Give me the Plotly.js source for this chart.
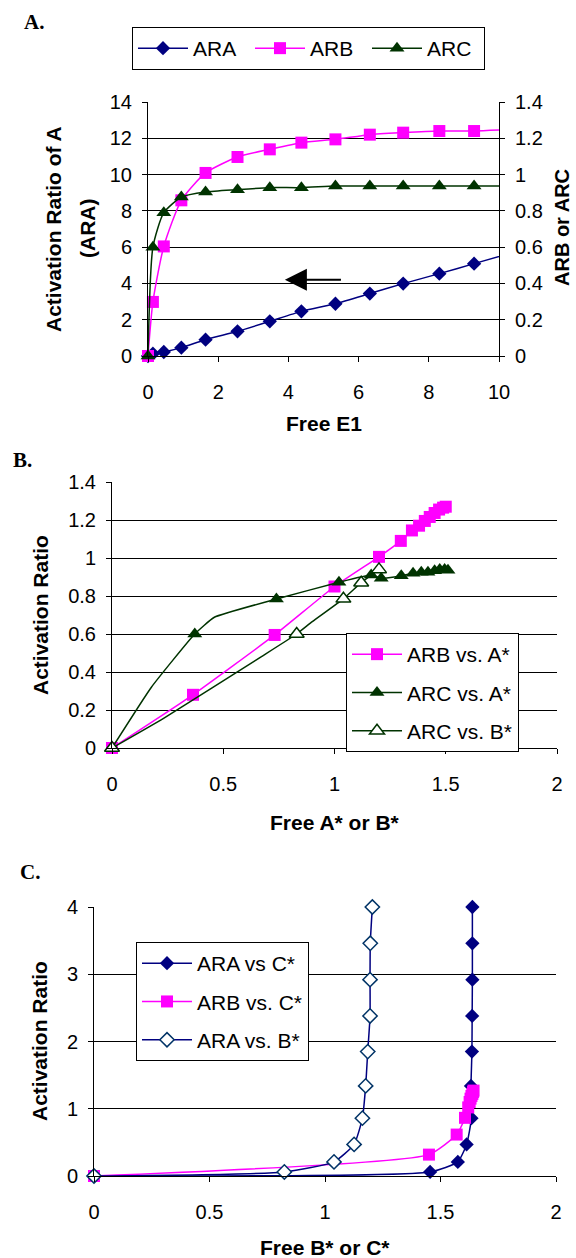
<!DOCTYPE html>
<html><head><meta charset="utf-8">
<script src="https://cdn.plot.ly/plotly-3.0.1.min.js"></script>
<style>html,body{margin:0;padding:0;background:#fff;} #chart{width:576px;height:1258px;}</style>
</head><body><div id="chart"></div>
<script>
// ---------- Panel A data ----------
const freeE1 = [0, 0.14, 0.45, 0.95, 1.64, 2.55, 3.47, 4.37, 5.34, 6.32, 7.27, 8.30, 9.29, 10.22];
const araA   = [0, 0.13, 0.22, 0.46, 0.90, 1.36, 1.91, 2.46, 2.88, 3.44, 3.99, 4.54, 5.09, 5.60];
const arbA   = [0, 0.298, 0.604, 0.858, 1.009, 1.097, 1.139, 1.176, 1.194, 1.220, 1.231, 1.240, 1.240, 1.247];
const arcA   = [0, 0.60, 0.79, 0.876, 0.904, 0.917, 0.928, 0.928, 0.937, 0.937, 0.937, 0.937, 0.937, 0.937];
const arrowTail = [5.54, 4.2];
const arrowHead = [3.9, 4.2];

// ---------- Panel B data ----------
const freeA_arb = [0, 0.364, 0.731, 1.0, 1.20, 1.298, 1.348, 1.38, 1.406, 1.428, 1.45, 1.47, 1.488, 1.50];
const arbVsA    = [0, 0.28, 0.595, 0.85, 1.006, 1.09, 1.145, 1.17, 1.195, 1.216, 1.237, 1.255, 1.265, 1.27];
const freeA_arc = [0, 0.177, 0.372, 0.46, 0.739, 1.02, 1.165, 1.21, 1.30, 1.353, 1.39, 1.42, 1.45, 1.473, 1.495, 1.51];
const arcVsA    = [0, 0.32, 0.60, 0.688, 0.784, 0.872, 0.91, 0.893, 0.907, 0.92, 0.925, 0.925, 0.933, 0.94, 0.94, 0.936];
const arcVsA_hasMarker = [1, 0, 1, 0, 1, 1, 1, 1, 1, 1, 1, 1, 1, 1, 1, 1];
const freeB_arc = [0, 0.23, 0.67, 0.83, 0.90, 1.04, 1.12, 1.20];
const arcVsB    = [0, 0.155, 0.48, 0.60, 0.665, 0.785, 0.87, 0.94];
const arcVsB_hasMarker = [1, 0, 0, 1, 0, 1, 1, 1];

// ---------- Panel C data ----------
const araC       = [0, 0.06, 0.21, 0.47, 0.86, 1.34, 1.85, 2.38, 2.92, 3.46, 4.0];
const freeC_ara  = [0, 1.455, 1.575, 1.613, 1.634, 1.632, 1.636, 1.637, 1.638, 1.638, 1.638];
const freeB_ara  = [0, 0.824, 1.039, 1.126, 1.162, 1.176, 1.185, 1.195, 1.195, 1.196, 1.205];
const freeC_arb  = [0, 1.45, 1.57, 1.606, 1.62, 1.626, 1.63, 1.634, 1.638, 1.641, 1.643];
const arbVsC     = [0, 0.318, 0.616, 0.865, 1.02, 1.10, 1.15, 1.19, 1.22, 1.25, 1.27];

// ---------- styling ----------
const W = 576, H = 1258;
const px = v => v / W, py = v => 1 - v / H;
const SANS = 'Liberation Sans, Arial, sans-serif';
const SERIF = 'Liberation Serif, Times New Roman, serif';
const NAVY = '#000080', MAG = '#FF00FF', GREEN = '#003300', OPENBLUE = '#003366', NONE = 'rgba(0,0,0,0)';
const TICKF = {family: SANS, size: 20, color: '#000'};
const TITLEF = {family: SANS, size: 21, color: '#000', weight: 700};
// marker colour per point: transparent where the reference shows no marker
const inRangeColor = (col) => freeE1.map(v => v <= 10 ? col : NONE);
const flagColor = (flags, col) => flags.map(m => m ? col : NONE);

const traces = [
  {x: freeE1, y: araA, xaxis: 'x', yaxis: 'y', name: 'ARA', legend: 'legend', mode: 'lines+markers',
   line: {color: NAVY, width: 1.5, shape: 'spline', smoothing: 0.6},
   marker: {symbol: 'diamond', color: inRangeColor(NAVY), size: 11}, cliponaxis: false},
  {x: freeE1, y: arbA, xaxis: 'x', yaxis: 'y2', name: 'ARB', legend: 'legend', mode: 'lines+markers',
   line: {color: MAG, width: 1.5, shape: 'spline', smoothing: 0.6},
   marker: {symbol: 'square', color: inRangeColor(MAG), size: 12}, cliponaxis: false},
  {x: freeE1, y: arcA, xaxis: 'x', yaxis: 'y2', name: 'ARC', legend: 'legend', mode: 'lines+markers',
   line: {color: GREEN, width: 1.5, shape: 'spline', smoothing: 0.6},
   marker: {symbol: 'triangle-up', color: inRangeColor(GREEN), size: 13}, cliponaxis: false},

  {x: freeA_arb, y: arbVsA, xaxis: 'x2', yaxis: 'y3', name: 'ARB vs. A*', legend: 'legend2', legendgroup: 'b1', mode: 'lines+markers',
   line: {color: MAG, width: 1.5, shape: 'spline', smoothing: 0.4},
   marker: {symbol: 'square', color: MAG, size: 12}, cliponaxis: false},
  {x: freeA_arc, y: arcVsA, xaxis: 'x2', yaxis: 'y3', name: 'ARC vs. A*', legend: 'legend2', legendgroup: 'b2', mode: 'lines+markers',
   line: {color: GREEN, width: 1.5, shape: 'spline', smoothing: 0.4},
   marker: {symbol: 'triangle-up', color: flagColor(arcVsA_hasMarker, GREEN), size: 13}, cliponaxis: false},
  {x: freeB_arc, y: arcVsB, xaxis: 'x2', yaxis: 'y3', name: 'ARC vs. B*', legend: 'legend2', legendgroup: 'b3', mode: 'lines+markers',
   line: {color: GREEN, width: 1.5, shape: 'spline', smoothing: 0.4},
   marker: {symbol: 'triangle-up', color: flagColor(arcVsB_hasMarker, '#fff'),
            line: {color: flagColor(arcVsB_hasMarker, GREEN), width: 1.5}, size: 13}, cliponaxis: false},

  {x: freeC_ara, y: araC, xaxis: 'x3', yaxis: 'y4', name: 'ARA vs C*', legend: 'legend3', legendgroup: 'c1', mode: 'lines+markers',
   line: {color: NAVY, width: 1.5, shape: 'spline', smoothing: 0.5},
   marker: {symbol: 'diamond', color: NAVY, size: 11}, cliponaxis: false},
  {x: freeC_arb, y: arbVsC, xaxis: 'x3', yaxis: 'y4', name: 'ARB vs. C*', legend: 'legend3', legendgroup: 'c2', mode: 'lines+markers',
   line: {color: MAG, width: 1.5, shape: 'spline', smoothing: 0.5},
   marker: {symbol: 'square', color: MAG, size: 12}, cliponaxis: false},
  {x: freeB_ara, y: araC, xaxis: 'x3', yaxis: 'y4', name: 'ARA vs. B*', legend: 'legend3', legendgroup: 'c3', mode: 'lines+markers',
   line: {color: NAVY, width: 1.5, shape: 'spline', smoothing: 0.5},
   marker: {symbol: 'diamond', color: '#fff', line: {color: OPENBLUE, width: 1.5}, size: 11}, cliponaxis: false}
];

const baseAxis = {showline: true, linecolor: '#000', linewidth: 1, ticks: 'outside', ticklen: 5, tickcolor: '#000',
  tickwidth: 1, zeroline: false, tickfont: TICKF, fixedrange: true};
const xAx = (dom, range, dtick, anchor) => Object.assign({}, baseAxis, {domain: dom, range: range, dtick: dtick, tick0: 0,
  anchor: anchor, showgrid: false, ticklabelstandoff: 13});
const yAx = (dom, range, dtick, anchor) => Object.assign({}, baseAxis, {domain: dom, range: range, dtick: dtick, tick0: 0,
  anchor: anchor, showgrid: true, gridcolor: '#000', gridwidth: 1, ticklabelstandoff: 6});

const legendBase = {bgcolor: '#fff', bordercolor: '#000', borderwidth: 1, font: {family: SANS, size: 21, color: '#000'},
  xanchor: 'left', yanchor: 'top', itemwidth: 50};

const ann = (x, y, text, extra) => Object.assign({xref: 'paper', yref: 'paper', x: px(x), y: py(y), text: text,
  showarrow: false, xanchor: 'center', yanchor: 'middle', font: TITLEF}, extra || {});

const layout = {
  width: W, height: H, margin: {l: 0, r: 0, t: 0, b: 0}, autosize: false,
  paper_bgcolor: '#fff', plot_bgcolor: '#fff',
  xaxis: xAx([px(148), px(499)], [0, 10], 2, 'y'),
  yaxis: yAx([py(356), py(102)], [0, 14], 2, 'x'),
  yaxis2: Object.assign({}, baseAxis, {overlaying: 'y', side: 'right', anchor: 'x', range: [0, 1.4], dtick: 0.2, tick0: 0,
    showgrid: false, ticklabelstandoff: 6}),
  xaxis2: xAx([px(112), px(557)], [0, 2], 0.5, 'y3'),
  yaxis3: yAx([py(748), py(482)], [0, 1.4], 0.2, 'x2'),
  xaxis3: xAx([px(94), px(556)], [0, 2], 0.5, 'y4'),
  yaxis4: yAx([py(1176), py(907)], [0, 4], 1, 'x3'),
  legend: Object.assign({}, legendBase, {x: px(132), y: py(27), orientation: 'h', entrywidth: 52, entrywidthmode: 'pixels'}),
  legend2: Object.assign({}, legendBase, {x: px(346), y: py(633), tracegroupgap: 8, traceorder: 'grouped'}),
  legend3: Object.assign({}, legendBase, {x: px(136), y: py(942), tracegroupgap: 8, traceorder: 'grouped'}),
  annotations: [
    ann(22, 22, 'A.', {xanchor: 'left', font: {family: SERIF, size: 21, color: '#000', weight: 700}}),
    ann(11, 460, 'B.', {xanchor: 'left', font: {family: SERIF, size: 21, color: '#000', weight: 700}}),
    ann(18, 872, 'C.', {xanchor: 'left', font: {family: SERIF, size: 21, color: '#000', weight: 700}}),
    ann(323.5, 423, 'Free E1'),
    ann(53, 229, 'Activation Ratio of A', {textangle: -90}),
    ann(87, 229, '(ARA)', {textangle: -90}),
    ann(562, 228, 'ARB or ARC', {textangle: -90, font: {family: SANS, size: 20, color: '#000', weight: 700}}),
    ann(334.5, 822, 'Free A* or B*'),
    ann(40, 615, 'Activation Ratio', {textangle: -90}),
    ann(325, 1247, 'Free B* or C*'),
    ann(39, 1041, 'Activation Ratio', {textangle: -90}),
    {xref: 'x', yref: 'y', axref: 'x', ayref: 'y', x: arrowHead[0], y: arrowHead[1], ax: arrowTail[0], ay: arrowTail[1],
     text: '', showarrow: true, arrowhead: 2, arrowsize: 2.2, arrowwidth: 2, arrowcolor: '#000', standoff: 0}
  ]
};

Plotly.newPlot('chart', traces, layout, {staticPlot: true, displayModeBar: false});
</script></body></html>
